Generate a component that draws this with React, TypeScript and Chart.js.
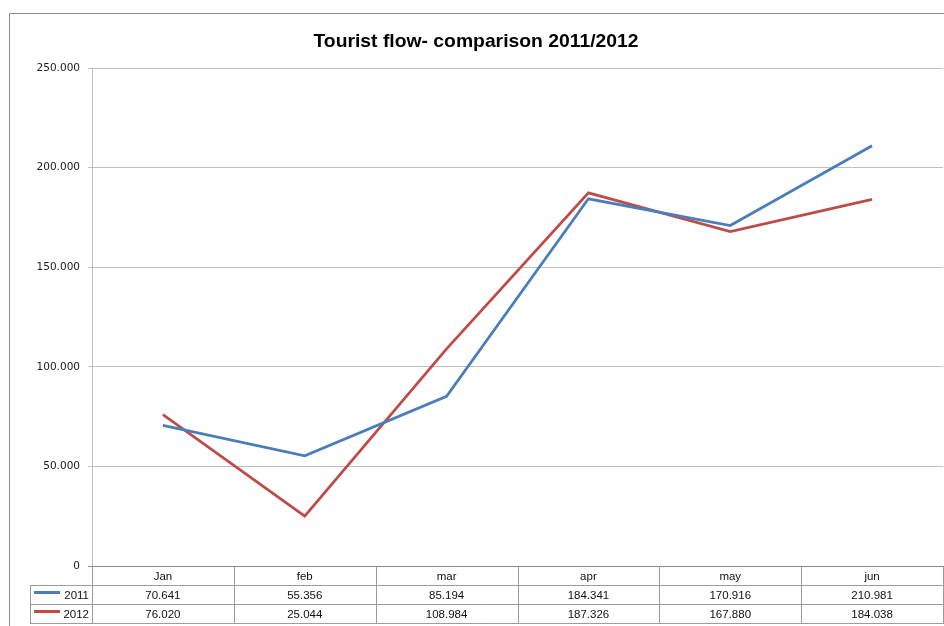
import React, { useEffect, useRef } from "react";
import { Chart, registerables } from "chart.js";
Chart.register(...registerables);

const categories = ["Jan", "feb", "mar", "apr", "may", "jun"];
const series2011 = [70641, 55356, 85194, 184341, 170916, 210981];
const series2012 = [76020, 25044, 108984, 187326, 167880, 184038];
const seriesNames = ["2011", "2012"];
const seriesColors = ["#4a7ebb", "#be4b48"];
const yMin = 0;
const yMax = 250000;
const yStep = 50000;
const titleText = "Tourist flow- comparison 2011/2012";

function fmt(v: number): string {
  return String(Math.round(v)).replace(/\B(?=(\d{3})+(?!\d))/g, ".");
}

const tablePlugin = {
  id: "frameAndTable",
  afterDraw(chart: any) {
    const ctx = chart.ctx as CanvasRenderingContext2D;
    const area = chart.chartArea;
    const xs = chart.scales.x;
    const W = chart.width;
    const H = chart.height;
    ctx.save();
    // outer frame
    ctx.strokeStyle = "#8a8a8a";
    ctx.lineWidth = 1;
    ctx.beginPath();
    ctx.moveTo(9.5, H);
    ctx.lineTo(9.5, 13.5);
    ctx.lineTo(W, 13.5);
    ctx.stroke();

    // title
    ctx.fillStyle = "#000";
    ctx.font = "bold 18.5px 'Liberation Sans', Arial, sans-serif";
    ctx.textAlign = "center";
    ctx.textBaseline = "alphabetic";
    const tw = ctx.measureText(titleText).width;
    const target = 325;
    const cx = 476;
    ctx.save();
    ctx.translate(cx, 47);
    ctx.scale(target / tw, 1);
    ctx.fillText(titleText, 0, 0);
    ctx.restore();

    // data table
    const rowH = 19;
    const top = Math.round(area.bottom);
    const n = categories.length;
    const step = (area.right - area.left) / n;
    const legendLeft = 30.5;
    ctx.strokeStyle = "#9c9c9c";
    ctx.lineWidth = 1;
    ctx.beginPath();
    for (let r = 1; r <= 3; r++) {
      const y = top + r * rowH + 0.5;
      ctx.moveTo(legendLeft, y);
      ctx.lineTo(area.right, y);
    }
    for (let i = 0; i <= n; i++) {
      const x = Math.round(area.left + i * step) + 0.5;
      ctx.moveTo(x, top);
      ctx.lineTo(x, top + 3 * rowH + 1);
    }
    ctx.moveTo(legendLeft, top + rowH);
    ctx.lineTo(legendLeft, top + 3 * rowH + 1);
    ctx.stroke();

    ctx.fillStyle = "#111";
    ctx.font = "11.5px 'Liberation Sans', Arial, sans-serif";
    ctx.textAlign = "center";
    ctx.textBaseline = "middle";
    const rows = [series2011, series2012];
    for (let i = 0; i < n; i++) {
      const x = xs.getPixelForValue(i);
      ctx.fillText(categories[i], x, top + rowH / 2 + 1);
      for (let r = 0; r < rows.length; r++) {
        ctx.fillText(fmt(rows[r][i]), x, top + rowH * (r + 1) + rowH / 2 + 1);
      }
    }
    for (let r = 0; r < seriesNames.length; r++) {
      const y = top + rowH * (r + 1) + rowH / 2;
      ctx.strokeStyle = seriesColors[r];
      ctx.lineWidth = 3;
      ctx.beginPath();
      ctx.moveTo(34, y - 2);
      ctx.lineTo(60, y - 2);
      ctx.stroke();
      ctx.fillStyle = "#111";
      ctx.textAlign = "right";
      ctx.fillText(seriesNames[r], 89, y + 1);
    }
    ctx.restore();
  },
};

export default function App() {
  const ref = useRef<HTMLCanvasElement | null>(null);
  useEffect(() => {
    if (!ref.current) return;
    const chart = new Chart(ref.current, {
      type: "line",
      data: {
        labels: categories,
        datasets: [
          {
            label: seriesNames[0],
            data: series2011,
            borderColor: seriesColors[0],
            backgroundColor: seriesColors[0],
            borderWidth: 2.75,
            pointRadius: 0,
            tension: 0,
          },
          {
            label: seriesNames[1],
            data: series2012,
            borderColor: seriesColors[1],
            backgroundColor: seriesColors[1],
            borderWidth: 2.75,
            pointRadius: 0,
            tension: 0,
          },
        ],
      },
      options: {
        animation: false,
        responsive: false,
        devicePixelRatio: 1,
        layout: { padding: { left: 30, right: 1, top: 68, bottom: 60 } },
        plugins: {
          legend: { display: false },
          title: { display: false },
          tooltip: { enabled: false },
        },
        scales: {
          x: {
            type: "category",
            offset: true,
            display: false,
          },
          y: {
            min: yMin,
            max: yMax,
            afterFit: (s: any) => {
              s.width = 62;
            },
            ticks: {
              stepSize: yStep,
              padding: 8,
              color: "#1a1a1a",
              font: { family: "'DejaVu Sans', Verdana, sans-serif", size: 10.5 },
              callback: (v: any) => fmt(Number(v)),
            },
            grid: {
              color: (c: any) => (c.tick && c.tick.value === 0 ? "#8c8c8c" : "#c0c0c0"),
              lineWidth: 1,
              tickLength: 4,
              drawTicks: true,
            },
            border: { display: true, color: "#bdbdbd", width: 1 },
          },
        },
      },
      plugins: [tablePlugin],
    });
    return () => chart.destroy();
  }, []);
  return (
    <div style={{ position: "absolute", left: 0, top: 0, width: 944, height: 626, background: "#fff" }}>
      <canvas ref={ref} width={944} height={626} style={{ display: "block" }} />
    </div>
  );
}
